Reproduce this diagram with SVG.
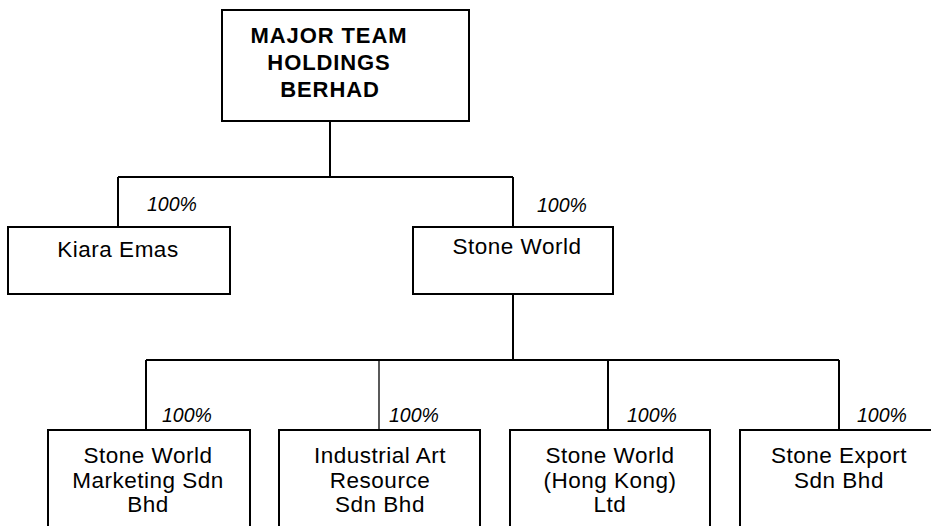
<svg xmlns="http://www.w3.org/2000/svg" width="931" height="526" viewBox="0 0 931 526">
<style>
.box{fill:#fff;stroke:#000;stroke-width:2}
.ln{fill:none;stroke:#000;stroke-width:2}
.t{font-family:"Liberation Sans",Arial,sans-serif;font-size:22.5px;letter-spacing:0.5px;text-anchor:middle;fill:#000}
.b{font-family:"Liberation Sans",Arial,sans-serif;font-size:22px;font-weight:bold;letter-spacing:0.9px;text-anchor:middle;fill:#000}
.p{font-family:"Liberation Sans",Arial,sans-serif;font-size:19.5px;font-style:italic;fill:#000}
</style>
<rect width="931" height="526" fill="#fff"/>
<g id="connectors">
<path class="ln" d="M330 121V177M118 177H513M118 177V227M513 177V227"/>
<path class="ln" d="M513 294V360M146 360H839M146 360V430M608 360V430M839 360V430"/>
<path class="ln" style="stroke-width:1.3" d="M379 360V430"/>
<text class="p" x="147" y="211">100%</text>
<text class="p" x="537" y="212">100%</text>
<text class="p" x="162" y="422">100%</text>
<text class="p" x="389" y="422">100%</text>
<text class="p" x="627" y="422">100%</text>
<text class="p" x="857" y="422">100%</text>
</g>
<g id="major-team">
<rect class="box" x="222" y="10" width="247" height="111"/>
<text class="b" x="329" y="43">MAJOR TEAM</text>
<text class="b" x="329" y="70">HOLDINGS</text>
<text class="b" x="330" y="97">BERHAD</text>
</g>
<g id="kiara-emas">
<rect class="box" x="8" y="227" width="222" height="67"/>
<text class="t" x="118" y="257">Kiara Emas</text>
</g>
<g id="stone-world">
<rect class="box" x="413" y="227" width="200" height="67"/>
<text class="t" x="517" y="254">Stone World</text>
</g>
<g id="stone-world-marketing">
<rect class="box" x="48" y="430" width="202" height="100"/>
<text class="t" x="148" y="463">Stone World</text>
<text class="t" x="148" y="487.5">Marketing Sdn</text>
<text class="t" x="148" y="512">Bhd</text>
</g>
<g id="industrial-art">
<rect class="box" x="279" y="430" width="201" height="100"/>
<text class="t" x="380" y="463">Industrial Art</text>
<text class="t" x="380" y="487.5">Resource</text>
<text class="t" x="380" y="512">Sdn Bhd</text>
</g>
<g id="stone-world-hk">
<rect class="box" x="510" y="430" width="200" height="100"/>
<text class="t" x="610" y="463">Stone World</text>
<text class="t" x="610" y="487.5">(Hong Kong)</text>
<text class="t" x="610" y="512">Ltd</text>
</g>
<g id="stone-export">
<rect class="box" x="740" y="430" width="200" height="100"/>
<text class="t" x="839" y="463">Stone Export</text>
<text class="t" x="839" y="487.5">Sdn Bhd</text>
</g>
</svg>
